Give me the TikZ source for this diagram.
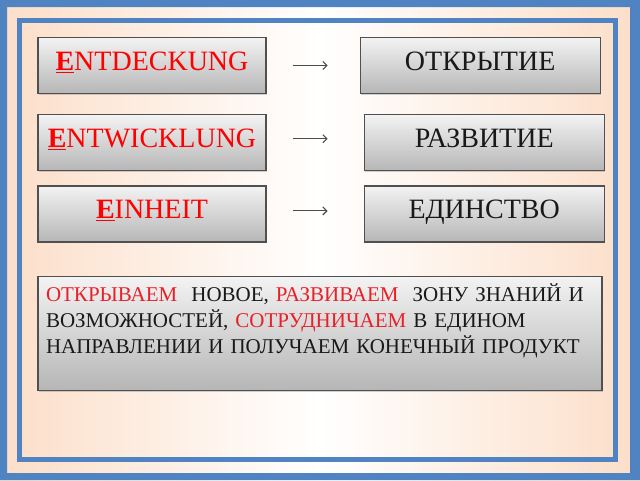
\documentclass[tikz,border=0pt]{standalone}
\usepackage{fontspec}
\setmainfont{Liberation Serif}
\usetikzlibrary{positioning, arrows.meta, shadows}
\definecolor{frameblue}{RGB}{79,131,194}
\definecolor{peach}{RGB}{252,222,200}
\definecolor{boxtop}{RGB}{243,243,243}
\definecolor{boxbot}{RGB}{182,182,182}
\definecolor{boxline}{RGB}{80,80,80}
\definecolor{wordred}{RGB}{232,32,40}
\newcommand{\firstletter}[1]{\underline{\textbf{#1}}}
\tikzset{
  arr/.style={-{Straight Barb[length=4pt, width=8pt]}, draw=black!70, line width=1.1pt, shorten <=26pt, shorten >=32pt},
  panel/.style={draw=boxline, line width=1.2pt, top color=boxtop, bottom color=boxbot, inner sep=0pt,
    drop shadow={shadow xshift=1pt, shadow yshift=-1.5pt, opacity=.35}},
  word/.style={panel, minimum height=56pt, text height=19pt, text depth=9pt, font=\fontsize{28}{30}\selectfont},
  de/.style={word, minimum width=228pt, text=red},
  ru/.style={word, minimum width=240pt, text=black!90}
}

\begin{document}
\begin{tikzpicture}[x=1pt, y=-1pt]
\useasboundingbox (0,0) rectangle (640,480);
\shade[left color=peach, right color=peach, middle color=white] (0,0) rectangle (640,480);
\fill[frameblue, even odd rule] (0,0) rectangle (640,480) (7,7) rectangle (630,473);
\draw[frameblue, line width=5pt] (19.5,20.5) rectangle (615.5,459.5);

\node[de] (ent) at (152,65.5) {\firstletter{E}NTDECKUNG};
\node[de, below=20pt of ent] (entw) {\firstletter{E}NTWICKLUNG};
\node[de, below=14pt of entw] (ein) {\firstletter{E}INHEIT};
\node[ru, right=93pt of ent] (otk) {ОТКРЫТИЕ};
\node[ru, right=97pt of entw] (razv) {РАЗВИТИЕ};
\node[ru, right=97pt of ein] (edin) {ЕДИНСТВО};

\draw[arr] (ent.east) -- (ent.east -| otk.west);
\draw[arr, shorten >=36pt] ([yshift=4pt]entw.east) -- ([yshift=4pt]entw.east -| razv.west);
\draw[arr, shorten >=36pt] ([yshift=3pt]ein.east) -- ([yshift=3pt]ein.east -| edin.west);

\node[panel, below=33pt of ein.south west, anchor=north west, minimum width=564pt, minimum height=114pt,
  inner xsep=8pt, text width=548pt, align=left, text=black!90, font=\fontsize{21}{26}\selectfont] (motto)
  {{\color{wordred}ОТКРЫВАЕМ}\ \ НОВОЕ, {\color{wordred}РАЗВИВАЕМ}\ \ ЗОНУ ЗНАНИЙ И\\
   ВОЗМОЖНОСТЕЙ, {\color{wordred}СОТРУДНИЧАЕМ} В ЕДИНОМ\\
   НАПРАВЛЕНИИ И ПОЛУЧАЕМ КОНЕЧНЫЙ ПРОДУКТ\\[3pt]
   \mbox{}};
\end{tikzpicture}
\end{document}
